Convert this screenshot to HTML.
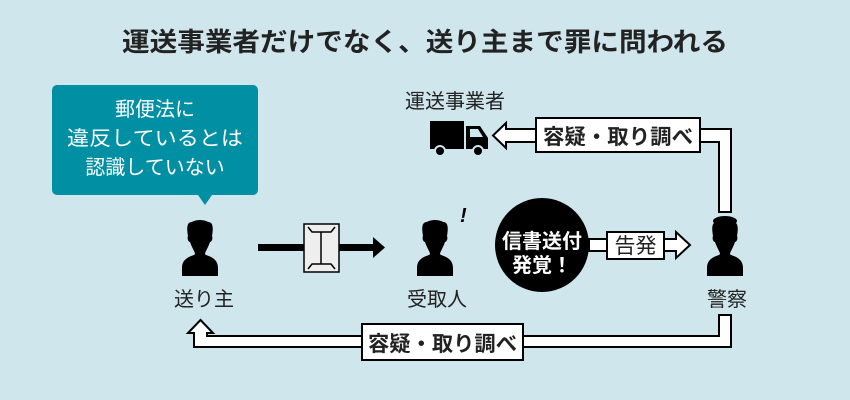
<!DOCTYPE html>
<html><head><meta charset="utf-8"><style>
html,body{margin:0;padding:0;background:#cfe6ec;}
svg{display:block;font-family:"Liberation Sans","Noto Sans CJK JP",sans-serif;}
</style></head><body>
<svg width="850" height="400" viewBox="0 0 850 400" xmlns="http://www.w3.org/2000/svg">
<defs>
<g id="p">
<path d="M-8,-26 C-14,-26 -13,-18 -12,-12 C-13,-10 -12,-6 -10,-6 C-8,0 -5,4 -5,6 C-5,8 -18,8 -18,20 L-18,28 L18,28 L18,20 C18,8 5,8 5,6 C5,4 8,0 10,-6 C12,-6 13,-10 12,-12 C13,-18 14,-26 8,-26 Z" fill="#000"/>
<ellipse cx="0" cy="-22" rx="11" ry="6" fill="#000"/>
</g>
</defs>
<rect width="850" height="400" fill="#cfe6ec"/>
<text x="122" y="51" font-size="26" font-weight="bold" fill="#222" textLength="606" lengthAdjust="spacingAndGlyphs">運送事業者だけでなく、送り主まで罪に問われる</text>

<rect x="52" y="85" width="206" height="110" rx="5" fill="#008fa3"/>
<polygon points="198,195 212,195 205,205" fill="#008fa3"/>
<g fill="#fff" font-size="20" text-anchor="middle">
<text x="155" y="116">郵便法に</text>
<text x="155" y="145" textLength="176" lengthAdjust="spacingAndGlyphs">違反しているとは</text>
<text x="155" y="174">認識していない</text>
</g>

<use href="#p" x="200" y="248"/>
<use href="#p" x="435" y="248"/>
<use href="#p" x="725" y="248"/>
<ellipse cx="725" cy="221" rx="12" ry="5" fill="#000"/>
<text x="460" y="222" font-size="20" font-style="italic" font-weight="bold">!</text>

<g fill="#222" font-size="20" text-anchor="middle">
<text x="204" y="306">送り主</text>
<text x="437" y="306">受取人</text>
<text x="727" y="306">警察</text>
<text x="455" y="108">運送事業者</text>
</g>

<!-- mail arrow -->
<rect x="258" y="244" width="118" height="7" fill="#000"/>
<polygon points="373,237 385,247.5 373,258" fill="#000"/>
<rect x="304" y="224" width="35" height="48" fill="#eee" stroke="#000" stroke-width="1.5"/>
<path d="M308,227 L312,232 L331,232 L335,227 M308,269 L312,264 L331,264 L335,269 M321,232 L321,264" stroke="#000" stroke-width="1.5" fill="none"/>

<!-- circle -->
<circle cx="542" cy="245" r="47" fill="#000"/>
<g fill="#fff" font-size="20" font-weight="bold" text-anchor="middle">
<text x="542" y="248">信書送付</text>
<text x="542" y="272">発覚！</text>
</g>

<!-- 告発 arrow -->
<path d="M589,239 L676,239 L676,232 L690,245 L676,258 L676,251 L589,251 Z" fill="#fff" stroke="#000" stroke-width="2"/>
<rect x="607" y="232" width="57" height="27" fill="#fff" stroke="#000" stroke-width="2"/>
<text x="635.5" y="253" font-size="21" text-anchor="middle" fill="#222">告発</text>

<!-- truck -->
<rect x="430" y="121" width="34" height="28" fill="#000"/>
<path d="M466,126 L480,126 L488,138 L488,149 L466,149 Z" fill="#000"/>
<path d="M470,129 L478,129 L483,137 L470,137 Z" fill="#cfe6ec"/>
<circle cx="440" cy="151" r="5" fill="#000" stroke="#cfe6ec" stroke-width="2"/>
<circle cx="478" cy="151" r="5" fill="#000" stroke="#cfe6ec" stroke-width="2"/>

<!-- top arrow -->
<path d="M731,212 L731,129 L506,129 L506,123 L493,135.5 L506,148 L506,142 L719,142 L719,212 Z" fill="#fff" stroke="#000" stroke-width="2"/>
<rect x="536" y="118" width="164" height="34" fill="#fff" stroke="#000" stroke-width="2"/>
<text x="543" y="144" font-size="21" font-weight="bold" fill="#222" textLength="150" lengthAdjust="spacingAndGlyphs">容疑・取り調べ</text>

<!-- bottom arrow -->
<path d="M731,315 L731,347 L194,347 L194,333 L188,333 L200.5,320 L213,333 L207,333 L207,336 L719,336 L719,315 Z" fill="#fff" stroke="#000" stroke-width="2"/>
<rect x="362" y="324" width="161" height="36" fill="#fff" stroke="#000" stroke-width="2"/>
<text x="368" y="351" font-size="21" font-weight="bold" fill="#222" textLength="149" lengthAdjust="spacingAndGlyphs">容疑・取り調べ</text>
</svg>
</body></html>
